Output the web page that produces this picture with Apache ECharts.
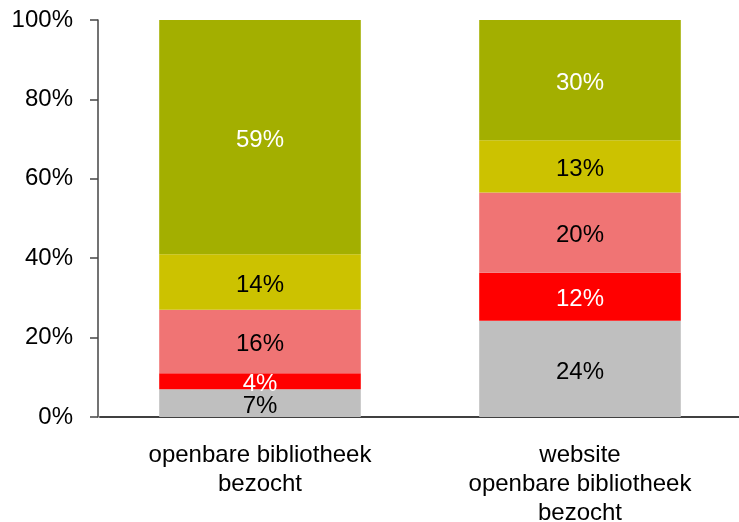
<!DOCTYPE html>
<html>
<head>
<meta charset="utf-8">
<script src="https://cdn.jsdelivr.net/npm/echarts@6/dist/echarts.min.js"></script>
<style>
html,body{margin:0;padding:0;background:#fff;}
#chart{width:739px;height:522px;}
</style>
</head>
<body>
<div id="chart"></div>
<script>
var categories = ['openbare bibliotheek\nbezocht', 'website\nopenbare bibliotheek\nbezocht'];
var yTickLabels = ['0%', '20%', '40%', '60%', '80%', '100%'];
// segment values (percent labels), bottom to top
var seg1 = [7, 24];   // grey
var seg2 = [4, 12];   // red
var seg3 = [16, 20];  // light red
var seg4 = [14, 13];  // yellow
var seg5 = [59, 30];  // olive green

var segments = [seg1, seg2, seg3, seg4, seg5];
var colors = ['#BFBFBF', '#FF0000', '#F07474', '#CCC200', '#A3AF00'];
var labelColors = ['#000', '#fff', '#000', '#000', '#fff'];

// 100% stacked: normalise each column to its total
var totals = categories.map(function (c, i) {
  var s = 0; segments.forEach(function (seg) { s += seg[i]; }); return s;
});

var FONT = 'Liberation Sans, Arial, sans-serif';

var series = segments.map(function (seg, k) {
  return {
    type: 'bar',
    stack: 'total',
    barWidth: '63%',
    data: seg.map(function (v, i) { return { value: v / totals[i] * 100, raw: v }; }),
    itemStyle: { color: colors[k] },
    label: {
      show: true,
      position: 'inside',
      offset: [0, 3],
      color: labelColors[k],
      fontFamily: FONT,
      fontSize: 24,
      formatter: function (p) { return p.data.raw + '%'; }
    },
    emphasis: { disabled: true },
    animation: false
  };
});

var chart = echarts.init(document.getElementById('chart'), null, { renderer: 'canvas' });
chart.setOption({
  animation: false,
  grid: { left: 100, right: -1, top: 20, bottom: 105, containLabel: false, outerBoundsMode: 'none' },
  xAxis: {
    type: 'category',
    data: categories,
    axisLine: { show: true, lineStyle: { color: '#404040', width: 2 } },
    axisTick: { show: false },
    axisLabel: {
      color: '#000', fontFamily: FONT, fontSize: 24, lineHeight: 29, margin: 24, interval: 0
    },
    splitLine: { show: false }
  },
  yAxis: {
    type: 'value',
    min: 0, max: 100, interval: 20,
    offset: 2,
    axisLine: { show: true, lineStyle: { color: '#454545', width: 1.5 } },
    axisTick: { show: true, length: 8, lineStyle: { color: '#454545', width: 1.5 } },
    axisLabel: {
      color: '#000', fontFamily: FONT, fontSize: 24, margin: 25,
      padding: [5, 0, 0, 0],
      formatter: function (v) { return yTickLabels[Math.round(v / 20)]; }
    },
    splitLine: { show: false }
  },
  series: series
});
</script>
</body>
</html>
